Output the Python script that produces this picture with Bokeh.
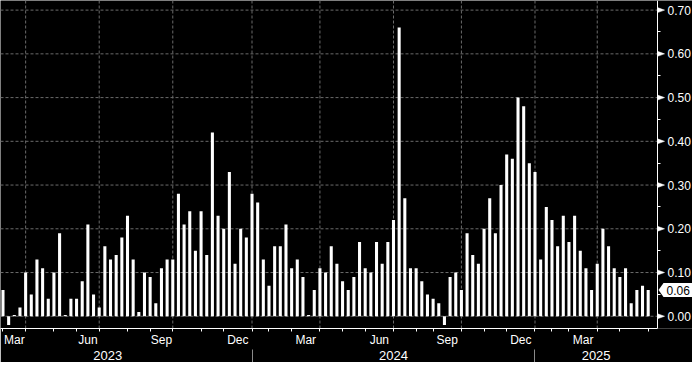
from bokeh.plotting import figure
from bokeh.models import (Range1d, LinearAxis, FixedTicker, NumeralTickFormatter,
                          Label, ColumnDataSource)
from bokeh.embed import file_html
from bokeh.resources import INLINE

# weekly values, Mar 2023 - May 2025
values = [
    0.06, -0.02, 0.003, 0.02, 0.10, 0.05, 0.13, 0.11, 0.04, 0.10,
    0.19, 0.003, 0.04, 0.04, 0.08, 0.21, 0.05, 0.02, 0.16, 0.13,
    0.14, 0.18, 0.23, 0.13, 0.01, 0.10, 0.09, 0.03, 0.11, 0.13,
    0.13, 0.28, 0.21, 0.24, 0.15, 0.24, 0.14, 0.42, 0.23, 0.20,
    0.33, 0.12, 0.20, 0.18, 0.28, 0.26, 0.13, 0.07, 0.16, 0.16,
    0.21, 0.11, 0.13, 0.09, 0.003, 0.06, 0.11, 0.10, 0.16,
    0.12, 0.08, 0.06, 0.09, 0.17, 0.11, 0.10, 0.17, 0.12, 0.17,
    0.22, 0.66, 0.27, 0.11, 0.11, 0.08, 0.05, 0.04, 0.03,
    -0.02, 0.09, 0.10, 0.06, 0.19, 0.14, 0.12, 0.20, 0.27, 0.19,
    0.30, 0.37, 0.36, 0.50, 0.48, 0.35, 0.33, 0.13, 0.25, 0.22,
    0.16, 0.23, 0.17, 0.23, 0.15, 0.11, 0.06, 0.12, 0.20, 0.16,
    0.11, 0.09, 0.11, 0.03, 0.06, 0.07, 0.06,
]
bar_index = list(range(len(values)))

# bar index at which each month begins
month_starts = [0, 4, 9, 13, 17, 22, 26, 30, 35, 39,
                44, 47, 51, 56, 60, 64, 69, 73, 76, 81, 85, 89,
                94, 97, 100, 105, 109, 114]
quarter_starts = [4, 17, 30, 44, 56, 69, 81, 94, 105]
month_labels = ["Mar", "Jun", "Sep", "Dec", "Mar", "Jun", "Sep", "Dec", "Mar"]
month_label_pos = [2, 15, 28, 41.5, 53.5, 66.5, 78.5, 91.5, 102.5]
year_labels = ["2023", "2024", "2025"]
year_label_pos = [18.5, 69, 104.8]
year_starts = [44, 94]
y_ticks = [0.0, 0.1, 0.2, 0.3, 0.4, 0.5, 0.6, 0.7]
y_minor = [0.05, 0.15, 0.25, 0.35, 0.45, 0.55, 0.65]

FONT = "Liberation Sans"
GRID = "#6a6a6a"

# layout constants
W, H = 692, 362
X0, X_AXIS, X1 = -0.44, 115.65, 121.83
Y0, Y1 = -0.028, 0.722
FRAME_H = 328
px_x = (X1 - X0) / W
px_y = (Y1 - Y0) / FRAME_H

p = figure(width=W, height=H,
           x_range=Range1d(X0, X1), y_range=Range1d(Y0, Y1),
           y_axis_location=None, output_backend="svg", toolbar_location=None,
           min_border_left=0, min_border_top=0, min_border_bottom=0, min_border_right=0,
           background_fill_color="black", border_fill_color="black",
           outline_line_color=None)
p.grid.visible = False

# dashed grid, stopping at the value axis
p.segment(x0=[X0] * len(y_ticks), x1=[X_AXIS] * len(y_ticks), y0=y_ticks, y1=y_ticks,
          line_color=GRID, line_width=1, line_dash="3 2")
p.segment(x0=quarter_starts, x1=quarter_starts, y0=[Y0] * len(quarter_starts),
          y1=[Y1] * len(quarter_starts), line_color=GRID, line_width=1, line_dash="3 2")

src = ColumnDataSource(dict(x=bar_index, top=values))
p.vbar(x="x", top="top", width=0.54, source=src, fill_color="white", line_color=None)

# value axis drawn at the right end of the data area
ya = LinearAxis(fixed_location=X_AXIS,
                ticker=FixedTicker(ticks=y_ticks, minor_ticks=y_minor),
                formatter=NumeralTickFormatter(format="0.00"))
ya.axis_line_color = "white"
ya.major_tick_line_color = None
ya.major_tick_out = 7
ya.major_tick_in = 0
ya.minor_tick_line_color = "white"
ya.minor_tick_out = 3
ya.minor_tick_in = 0
ya.major_label_standoff = 3
ya.major_label_text_color = "white"
ya.major_label_text_font = FONT
ya.major_label_text_font_size = "12px"
p.add_layout(ya, "right")

# arrow-shaped major ticks
p.patches(xs=[[X_AXIS, X_AXIS + 7 * px_x, X_AXIS] for t in y_ticks],
          ys=[[t + 2.5 * px_y, t, t - 2.5 * px_y] for t in y_ticks],
          fill_color="white", line_color="white", line_width=0.5)

# month axis
xa = p.xaxis[0]
xa.bounds = (X0, X_AXIS)
xa.ticker = FixedTicker(ticks=month_label_pos, minor_ticks=month_starts)
xa.major_label_overrides = {pos: lab for pos, lab in zip(month_label_pos, month_labels)}
xa.axis_line_color = "white"
xa.major_tick_line_color = None
xa.major_tick_out = 0
xa.major_tick_in = 0
xa.minor_tick_line_color = "white"
xa.minor_tick_out = 3
xa.minor_tick_in = 0
xa.major_label_standoff = 1
xa.major_label_text_color = "white"
xa.major_label_text_font = FONT
xa.major_label_text_font_size = "12px"
xa.major_label_text_line_height = 1.0

# year axis
ya2 = LinearAxis(ticker=FixedTicker(ticks=year_label_pos, minor_ticks=year_starts))
ya2.major_label_overrides = {pos: lab for pos, lab in zip(year_label_pos, year_labels)}
ya2.axis_line_color = None
ya2.major_tick_line_color = None
ya2.major_tick_out = 0
ya2.major_tick_in = 0
ya2.minor_tick_line_color = "#8a8a8a"
ya2.minor_tick_out = 16
ya2.minor_tick_in = 0
ya2.major_label_standoff = -15
ya2.major_label_text_color = "white"
ya2.major_label_text_font = FONT
ya2.major_label_text_font_size = "13px"
ya2.major_label_text_line_height = 1.0
p.add_layout(ya2, "below")

# last value marker
last = values[-1]
p.patch(x=[X_AXIS + 1 * px_x, X_AXIS + 6 * px_x, X1, X1, X_AXIS + 6 * px_x],
        y=[last, last + 7 * px_y, last + 7 * px_y, last - 7 * px_y, last - 7 * px_y],
        fill_color="white", line_color=None)
p.add_layout(Label(x=X_AXIS, y=last, x_offset=9, text=f"{last:.2f}",
                   text_color="black", text_font=FONT, text_font_size="12px",
                   text_baseline="middle", text_align="left"))

open("out.html", "w").write(file_html(p, INLINE))
